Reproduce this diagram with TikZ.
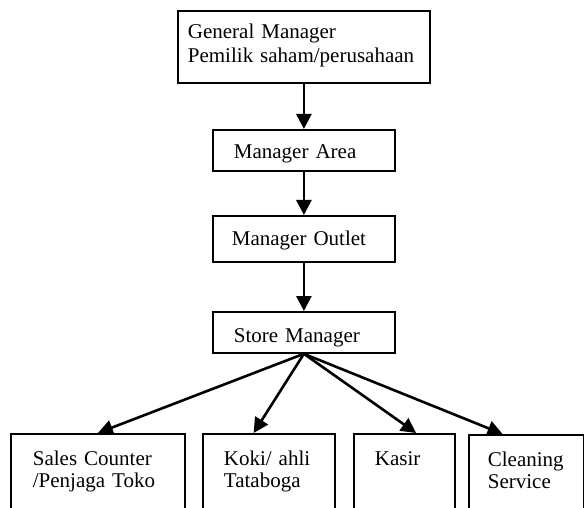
\documentclass[tikz,border=0pt]{standalone}
\usepackage{fontspec}
\setmainfont{Liberation Serif}
\usetikzlibrary{calc, arrows.meta}

\begin{document}
\begin{tikzpicture}[x=1pt,y=-1pt]
	\tikzset{box/.style={draw, line width=1.8pt, anchor=north west, inner ysep=0pt, align=left, font=\fontsize{21}{24}\selectfont},
		staff/.style={box, font=\fontsize{21}{22}\selectfont, text height=32pt, text depth=70pt},
		arr/.style={-{Triangle[length=15pt,width=15pt]}, line width=2.6pt}}
	\clip (0,0) rectangle (584,508);

	\node (gm) at (177,10) [box, text width=232pt, inner xsep=10pt, text height=28pt, text depth=44pt] {General Manager\\Pemilik saham/perusahaan};
	\node (area) at (212,129) [box, text width=140pt, inner xsep=21pt, text height=29pt, text depth=12pt] {Manager Area};
	\node (outlet) at (212,215) [box, text width=144pt, inner xsep=19pt, text height=30pt, text depth=16pt] {Manager Outlet};
	\node (store) at (212,311) [box, text width=140pt, inner xsep=21pt, text height=31pt, text depth=10pt] {Store Manager};

	\draw[arr] (gm) -- (area);
	\draw[arr] (area) -- (outlet);
	\draw[arr] (outlet) -- (store);

	\node (sales) at (10,433) [staff, text width=130pt, inner xsep=22pt] {Sales Counter\\/Penjaga Toko};
	\node (koki) at (202,433) [staff, text width=90pt, inner xsep=21pt] {Koki/ ahli\\Tataboga};
	\node (kasir) at (353,433) [staff, text width=59pt, inner xsep=21pt] {Kasir};
	\node (cleaning) at (468,434) [staff, text width=77pt, inner xsep=19pt] {Cleaning\\Service};

	\draw[arr] (store.south) -- (sales.north);
	\draw[arr] (store.south) -- ($(koki.north west)!.386!(koki.north east)$);
	\draw[arr] (store.south) -- ($(kasir.north west)!.614!(kasir.north east)$);
	\draw[arr] (store.south) -- ($(cleaning.north west)!.296!(cleaning.north east)$);
\end{tikzpicture}
\end{document}
